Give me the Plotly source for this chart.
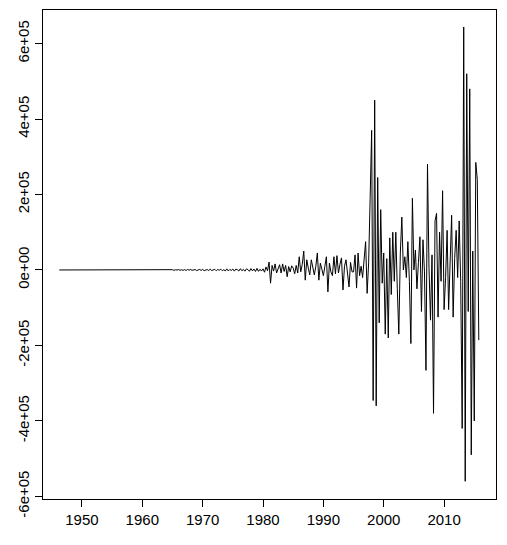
import plotly.graph_objs as go
import numpy as np

# quarterly series, start 1946 Q2, values in thousands
start = 1946.25
vals_1946_1961 = [
    0.0, 0.0, 0.0,
    0.1, -0.1, 0.0, 0.1,
    -0.1, 0.1, 0.0, -0.1,
    0.1, 0.0, -0.1, 0.1,
    0.0, 0.1, -0.1, 0.0,
    0.1, -0.1, 0.1, 0.0,
    -0.1, 0.2, -0.1, 0.0,
    0.1, -0.2, 0.1, 0.1,
    -0.1, 0.0, 0.2, -0.2,
    0.1, 0.1, -0.2, 0.1,
    0.0, -0.1, 0.2, -0.1,
    0.2, -0.2, 0.1, -0.1,
    -0.2, 0.3, -0.1, 0.1,
    0.2, -0.3, 0.2, 0.0,
    -0.2, 0.3, -0.3, 0.2,
    0.1, -0.3, 0.4, -0.2,
]
vals_1962_1979 = [
    0.5, -0.6, 0.3, 0.2,
    -0.8, 0.9, -0.4, 0.6,
    -0.7, 1.0, -0.9, 0.4,
    0.8, -1.1, 0.6, -0.3,
    1.2, -0.9, 0.5, -1.0,
    0.9, -1.3, 1.1, -0.5,
    1.4, -1.0, -0.6, 1.2,
    -1.5, 0.8, 1.3, -1.1,
    1.6, -1.8, 0.7, 1.2,
    -1.4, 2.0, -1.6, 0.9,
    1.8, -2.2, 1.5, -0.8,
    2.3, -1.9, 0.6, -2.4,
    3.0, -2.6, 1.4, -1.2,
    2.5, -3.1, 2.2, 0.8,
    -2.8, 3.4, -2.0, 1.6,
    -3.2, 2.9, 1.1, -3.5,
    3.8, -2.5, 2.6, -4.0,
    4.2, -3.6, 1.8, -2.9,
]
vals_1980_1996 = [
    3, -6, 8, -2,
    21, -35, 12, -3,
    16, -8, 5, 14,
    -8, 16, -4, 12,
    -18, 9, -5, 11,
    5, -10, 12, -8,
    35, -5, 15, 50,
    -27, 27, 5, -13,
    27, 8, -13, 10,
    45, -27, 18, 2,
    -15, 10, 35, -58,
    18, -5, -15, 35,
    -10, 38, -8, 15,
    32, -53, 10, 27,
    -15, -45, 20, -5,
    -5, 40, -48, 45,
    -15, 10, -20, 25,
]
vals_1997_2015 = [
    75, -62, 19, 190,
    370, -346, 450, -360,
    245, -140, 160, -35,
    45, -170, 30, -180,
    85, -65, 100, -30,
    100, -50, -170, 45,
    140, 0, 35, -20,
    75, -30, -195, 190,
    0, 53, -50, 20,
    88, -110, 80, -5,
    -266, 280, 5, -133,
    40, -380, 130, 150,
    -125, 100, -30, 210,
    -105, -20, 105, -105,
    60, 145, -125, 30,
    105, -20, 130, -30,
    -420, 644, -560, 520,
    -110, 480, -490, 50,
    -400, 285, 240, -186,
]

y_ticks = [-6e5, -4e5, -2e5, 0, 2e5, 4e5, 6e5]
y_labels = ['-6e+05', '-4e+05', '-2e+05', '0e+00', '2e+05', '4e+05', '6e+05']
x_ticks = [1950, 1960, 1970, 1980, 1990, 2000, 2010]

vals = np.array(vals_1946_1961 + vals_1962_1979 + vals_1980_1996 + vals_1997_2015) * 1000
t = start + 0.25 * np.arange(len(vals))

fig = go.Figure()
fig.add_trace(go.Scatter(x=t, y=vals, mode='lines',
                         line=dict(color='black', width=1),
                         showlegend=False))

axis_style = dict(showline=True, mirror=True, linecolor='black', linewidth=1,
                  ticks='outside', ticklen=7, tickcolor='black', tickwidth=1,
                  showgrid=False, zeroline=False, automargin=False,
                  tickfont=dict(family='Liberation Sans, Arial', size=15, color='black'))

fig.update_layout(
    width=507, height=545,
    margin=dict(l=43, r=11, t=10, b=46),
    paper_bgcolor='white', plot_bgcolor='white',
    showlegend=False,
)
fig.update_xaxes(range=[1943.55, 2018.6], tickvals=x_ticks, **axis_style)
fig.update_yaxes(range=[-6.07e5, 6.89e5], tickvals=y_ticks, ticktext=y_labels,
                 tickangle=-90, **axis_style)

# page body has an 8px default margin, drop it so the figure sits at 0,0
fig.write_html("out.html", config={'displayModeBar': False},
               post_script="document.body.style.margin='0';")
